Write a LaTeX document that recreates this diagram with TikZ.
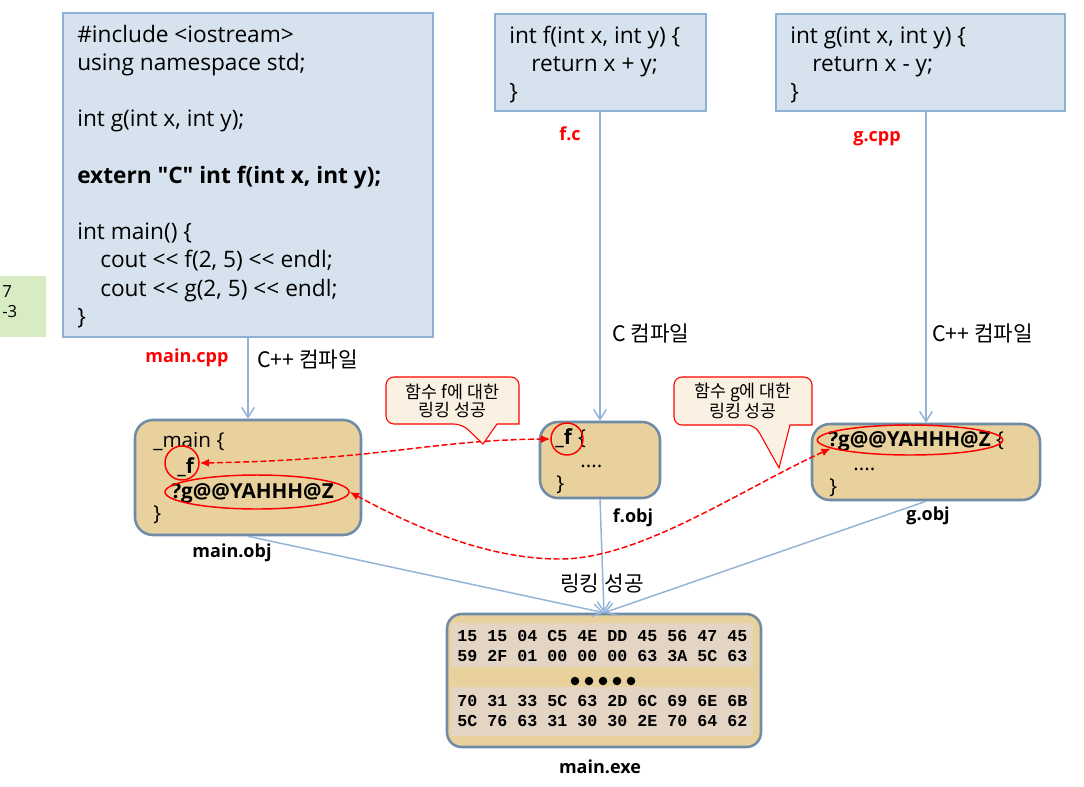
\documentclass[tikz,border=0pt]{standalone}
\usepackage{fontspec}
\setmainfont{Open Sans}
\newfontfamily\osans{Open Sans}
\newfontfamily\kr{Noto Sans CJK KR}
\newfontfamily\hexfont{Liberation Mono}
\usetikzlibrary{arrows.meta,shapes.geometric,fit}
\definecolor{srcfill}{RGB}{214,227,238}
\definecolor{srcborder}{RGB}{143,177,214}
\definecolor{connblue}{RGB}{149,179,215}
\definecolor{outgreen}{RGB}{216,236,196}
\definecolor{objfill}{RGB}{232,209,157}
\definecolor{objborder}{RGB}{111,139,166}
\definecolor{stripfill}{RGB}{227,212,196}
\definecolor{callfill}{RGB}{250,241,226}
\begin{document}
\begin{tikzpicture}[x=0.75pt,y=-0.75pt,
  src/.style={draw=srcborder, fill=srcfill, line width=1.1pt, inner sep=0},
  obj/.style={draw=objborder, fill=objfill, line width=1.9pt, rounded corners=13.5pt, inner sep=0},
  code/.style={anchor=base west, inner sep=0, font=\osans\fontsize{17}{20}\selectfont},
  objtxt/.style={anchor=base west, inner sep=0, font=\osans\fontsize{15.5}{18}\selectfont},
  hexrow/.style={anchor=base west, inner sep=0, font=\hexfont\bfseries\fontsize{12.5}{14}\selectfont},
  lab/.style={inner sep=0, font=\kr\fontsize{16}{19}\selectfont},
  redlab/.style={anchor=base, inner sep=0, text=red, font=\osans\bfseries\fontsize{13.5}{16}\selectfont},
  objlab/.style={anchor=base, inner sep=0, font=\osans\bfseries\fontsize{13.5}{16}\selectfont},
  conn/.style={draw=connblue, line width=1.1pt, -{Straight Barb[length=7.5pt,width=9.5pt]}},
  link/.style={draw=red, line width=1.1pt, dash pattern=on 4.5pt off 2pt,
     {Latex[length=7pt,width=6pt]}-{Latex[length=7pt,width=6pt]}},
  ring/.style={draw=red, line width=1.1pt, ellipse, inner sep=0},
  callout/.style={draw=red, fill=callfill, line width=0.8pt},
  calltxt/.style={align=center, inner sep=0, font=\kr\fontsize{13}{13.5}\selectfont}
]
\useasboundingbox (0,0) rectangle (1084,786);

% program output
\node[fit={(0,276)(46,337)}, fill=outgreen, inner sep=0] (out) {};
\node[code, font=\osans\fontsize{12.5}{14}\selectfont] (o1) at (2,297) {7};
\node[code, font=\osans\fontsize{12.5}{14}\selectfont] (o2) at (2,317) {-3};

% source boxes
\node[src, fit={(63,13)(433,337)}] (maincpp) {};
\node[src, fit={(495,14)(706,111)}] (fc) {};
\node[src, fit={(776,14)(1065,111)}] (gcpp) {};

\node[code] (c1) at (77,42.3) {\#include <{}iostream>};
\node[code] (c2) at (77,70.5) {using namespace std;};
\node[code] (c3) at (77,126.9) {int g(int x, int y);};
\node[code] (c4) at (77,183.3) {\bfseries extern "C" int f(int x, int y);};
\node[code] (c5) at (77,239.7) {int main() \{};
\node[code] (c6) at (100,267.9) {cout <{}< f(2, 5) <{}< endl;};
\node[code] (c7) at (100,296.1) {cout <{}< g(2, 5) <{}< endl;};
\node[code] (c8) at (77,324.3) {\}};

\node[code] (f1) at (509,43) {int f(int x, int y) \{};
\node[code] (f2) at (531,71) {return x + y;};
\node[code] (f3) at (509,99) {\}};

\node[code] (g1) at (790,43) {int g(int x, int y) \{};
\node[code] (g2) at (812,71) {return x - y;};
\node[code] (g3) at (790,99) {\}};

\node[redlab] (lfc) at (570,140) {f.c};
\node[redlab] (lgcpp) at (877,141) {g.cpp};
\node[redlab] (lmaincpp) at (187,362) {main.cpp};

% object boxes
\node[obj, fit={(135,420)(361,535)}] (mainobj) {};
\node[obj, fit={(540,422)(660,498)}] (fobj) {};
\node[obj, fit={(812,424)(1040,500)}] (gobj) {};
\node[obj, fit={(447,614)(761,747)}, rounded corners=11pt] (mainexe) {};
\fill[stripfill] (451,623) rectangle (753,667);
\fill[stripfill] (451,687) rectangle (753,736);

% compile arrows
\draw[conn] (maincpp.south) -- (mainobj.north);
\draw[conn] (fc.south -| fobj.north) -- (fobj.north);
\draw[conn] (gcpp.south -| gobj.north) -- (gobj.north);
\node[lab, anchor=base west] (lc1) at (257,367) {C++ 컴파일};
\node[lab, anchor=base west] (lc2) at (612,341) {C 컴파일};
\node[lab, anchor=base west] (lc3) at (932,341) {C++ 컴파일};

% link arrows
\draw[conn] (mainobj.south) -- (mainexe.north);
\draw[conn] (fobj.south) -- (mainexe.north);
\draw[conn] (gobj.south) -- (mainexe.north);
\node[lab, anchor=base] (llink) at (602,591) {링킹 성공};

% object contents
\node[objtxt] (m1) at (153,447) {\_main \{};
\node[objtxt] (m2) at (177,473) {\bfseries \_f};
\node[objtxt] (m3) at (171,498) {\bfseries ?g@@YAHHH@Z};
\node[objtxt] (m4) at (153,520) {\}};

\node[objtxt] (fo1) at (555,444) {\textbf{\_f} \{};
\node[objtxt] (fo2) at (580,467) {....};
\node[objtxt] (fo3) at (556,490) {\}};

\node[objtxt] (go1) at (828,446) {\textbf{?g@@YAHHH@Z} \{};
\node[objtxt] (go2) at (853,470) {....};
\node[objtxt] (go3) at (829,493) {\}};

\node[objlab] (lmainobj) at (232,557) {main.obj};
\node[objlab] (lfobj) at (633,522) {f.obj};
\node[objlab] (lgobj) at (928,520) {g.obj};
\node[objlab] (lmainexe) at (600,773) {main.exe};

% exe contents
\node[hexrow] (h1) at (457,641) {15 15 04 C5 4E DD 45 56 47 45};
\node[hexrow] (h2) at (457,661) {59 2F 01 00 00 00 63 3A 5C 63};
\node[hexrow] (h3) at (457,706) {70 31 33 5C 63 2D 6C 69 6E 6B};
\node[hexrow] (h4) at (457,726) {5C 76 63 31 30 30 2E 70 64 62};
\foreach \i in {0,...,4} \fill[black] (575+14*\i,681) circle (3.2pt);

% red marks
\node[ring, minimum width=25.5pt, minimum height=25.5pt] (mf) at (182,463) {};
\node[ring, minimum width=138pt, minimum height=25.5pt] (mg) at (257,492) {};
\node[ring, minimum width=24pt, minimum height=24pt] (ff) at (567,439) {};
\node[ring, minimum width=139pt, minimum height=22.5pt] (gg) at (910,440) {};

\draw[link] (mf.east) .. controls (380,460) and (430,440) .. (ff.west);
\coordinate (gdip) at (560,559);
\draw[link] (mg.east) .. controls (420,530) and (490,559) .. (gdip) .. controls (640,559) and (740,490) .. (gg.186);

% callouts
\draw[callout] (483,444) -- (497,424) -- (519,424) [rounded corners=6pt] -- (519,377) -- (386,377) -- (386,424) -- (462,424) [sharp corners] -- cycle;
\node[calltxt] (cf) at (452.5,401) {함수 f에 대한\\링킹 성공};
\draw[callout] (779,468) -- (790,425) -- (812,425) [rounded corners=6pt] -- (812,377) -- (674,377) -- (674,425) -- (755,425) [sharp corners] -- cycle;
\node[calltxt] (cg) at (743,401) {함수 g에 대한\\링킹 성공};
\end{tikzpicture}
\end{document}
